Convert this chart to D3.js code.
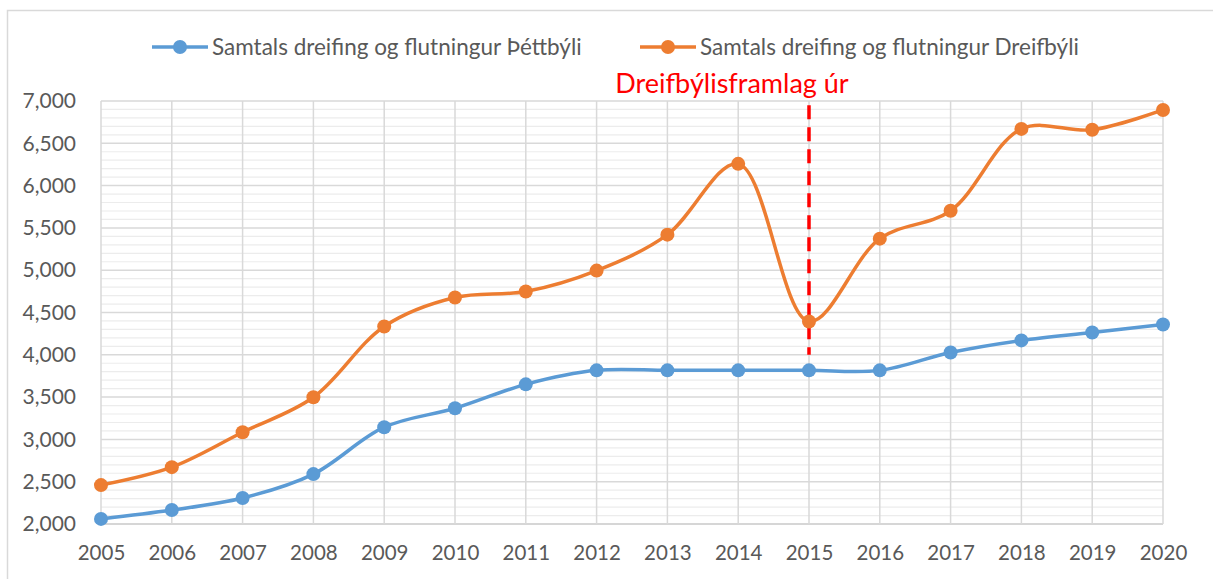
<!DOCTYPE html>
<html>
<head>
<meta charset="utf-8">
<script src="https://cdn.jsdelivr.net/npm/d3@7"></script>
<style>
  body { margin: 0; background: #fff; }
  svg { display: block; font-family: Lato, "Open Sans", sans-serif; }
</style>
</head>
<body>
<div id="chart"></div>
<script>
const years = [2005, 2006, 2007, 2008, 2009, 2010, 2011, 2012, 2013, 2014, 2015, 2016, 2017, 2018, 2019, 2020];
const urban = [2060, 2165, 2307, 2590, 3144, 3368, 3651, 3816, 3816, 3816, 3816, 3816, 4028, 4170, 4264, 4358];
const rural = [2460, 2672, 3085, 3498, 4335, 4677, 4748, 4995, 5420, 6257, 4394, 5373, 5703, 6670, 6660, 6894];
const seriesNames = ["Samtals dreifing og flutningur Þéttbýli", "Samtals dreifing og flutningur Dreifbýli"];
const seriesColors = ["#5b9bd5", "#ed7d31"];
const markerYear = 2015;
const markerLabel = "Dreifbýlisframlag úr";

const width = 1213, height = 579;
const margin = { left: 101, right: 50, top: 101, bottom: 55 };

const svg = d3.select("#chart").append("svg")
  .attr("width", width).attr("height", height)
  .attr("viewBox", [0, 0, width, height]);

// outer frame
svg.append("rect")
  .attr("x", 7.5).attr("y", 10.5)
  .attr("width", width).attr("height", height)
  .attr("fill", "none").attr("stroke", "#d9d9d9").attr("stroke-width", 1.5);

const x = d3.scaleLinear().domain([2005, 2020]).range([margin.left, width - margin.right]);
const y = d3.scaleLinear().domain([2000, 7000]).range([height - margin.bottom, margin.top]);

// minor gridlines
svg.append("g").selectAll("line")
  .data(d3.range(2100, 7000, 100).filter(v => v % 500 !== 0))
  .join("line")
  .attr("x1", x(2005)).attr("x2", x(2020))
  .attr("y1", d => y(d)).attr("y2", d => y(d))
  .attr("stroke", "#ececec").attr("stroke-width", 1.2);

// major gridlines
svg.append("g").selectAll("line")
  .data(d3.range(2000, 7001, 500))
  .join("line")
  .attr("x1", x(2005)).attr("x2", x(2020))
  .attr("y1", d => y(d)).attr("y2", d => y(d))
  .attr("stroke", d => d === 2000 ? "#c8c8c8" : "#d9d9d9").attr("stroke-width", 1.5);

svg.append("g").selectAll("line")
  .data(years)
  .join("line")
  .attr("x1", d => x(d)).attr("x2", d => x(d))
  .attr("y1", y(7000)).attr("y2", y(2000))
  .attr("stroke", "#d9d9d9").attr("stroke-width", 1.5);

// axes (labels only)
const yAxis = svg.append("g")
  .attr("transform", `translate(${x(2005) - 22},0)`)
  .call(d3.axisLeft(y).tickValues(d3.range(2000, 7001, 500)).tickFormat(d3.format(",")).tickSize(0));
yAxis.select(".domain").remove();
yAxis.selectAll("text").attr("fill", "#595959").attr("font-size", 21).attr("font-family", "Lato");

const xAxis = svg.append("g")
  .attr("transform", `translate(0,${y(2000) + 18})`)
  .call(d3.axisBottom(x).tickValues(years).tickFormat(d3.format("d")).tickSize(0));
xAxis.select(".domain").remove();
xAxis.selectAll("text").attr("fill", "#595959").attr("font-size", 20.5).attr("font-family", "Lato");

// red dashed marker
svg.append("line")
  .attr("x1", x(markerYear)).attr("x2", x(markerYear))
  .attr("y1", y(6950)).attr("y2", y(4000))
  .attr("stroke", "#ff0000").attr("stroke-width", 3.5)
  .attr("stroke-dasharray", "14,8");

svg.append("text")
  .attr("x", x(markerYear) - 77).attr("y", 93)
  .attr("text-anchor", "middle")
  .attr("fill", "#ff0000").attr("font-size", 27)
  .text(markerLabel);

// series
const line = d3.line()
  .x((d, i) => x(years[i]))
  .y(d => y(d))
  .curve(d3.curveCatmullRom.alpha(0.5));

[urban, rural].forEach((vals, k) => {
  svg.append("path")
    .datum(vals)
    .attr("fill", "none")
    .attr("stroke", seriesColors[k])
    .attr("stroke-width", 3.5)
    .attr("d", line);
  svg.append("g").selectAll("circle")
    .data(vals)
    .join("circle")
    .attr("cx", (d, i) => x(years[i]))
    .attr("cy", d => y(d))
    .attr("r", 7)
    .attr("fill", seriesColors[k]);
});

// legend
const legendX = [152, 640];
seriesNames.forEach((name, k) => {
  const g = svg.append("g").attr("transform", `translate(${legendX[k]},47)`);
  g.append("line").attr("x1", 0).attr("x2", 56).attr("y1", 0).attr("y2", 0)
    .attr("stroke", seriesColors[k]).attr("stroke-width", 3.5);
  g.append("circle").attr("cx", 28).attr("cy", 0).attr("r", 7).attr("fill", seriesColors[k]);
  g.append("text").attr("x", 60).attr("y", 8)
    .attr("fill", "#595959").attr("font-size", 22.5)
    .text(name);
});
</script>
</body>
</html>
